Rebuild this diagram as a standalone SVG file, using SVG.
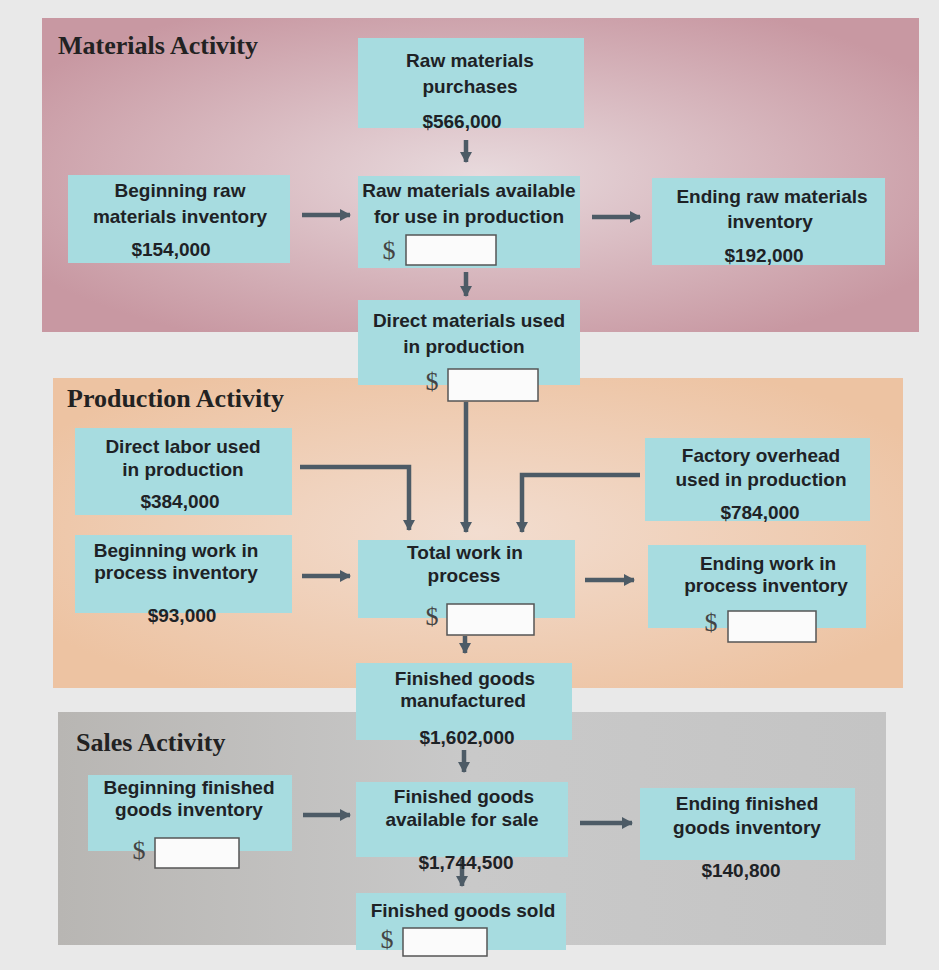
<svg xmlns="http://www.w3.org/2000/svg" width="939" height="970" viewBox="0 0 939 970">
<style>
.t{font-family:"Liberation Sans",Arial,sans-serif;font-weight:bold;font-size:19px;fill:#1e2226;text-anchor:middle}
.h{font-family:"Liberation Serif","Times New Roman",serif;font-weight:bold;font-size:26px;fill:#222}
.node{fill:#a7dce0}
.inp{fill:#fbfbfb;stroke:#555;stroke-width:1.5}
.dol{font-family:"Liberation Serif","Times New Roman",serif;font-size:26px;fill:#444;text-anchor:middle}
.c{stroke:#4d5b66;stroke-width:4.5;fill:none}
</style>
<defs>
<marker id="ah" markerUnits="userSpaceOnUse" markerWidth="14" markerHeight="14" refX="10" refY="7" orient="auto">
<path d="M0,1 L11,7 L0,13 Z" fill="#4d5b66"/>
</marker>
<radialGradient id="gm" cx="0.5" cy="0.5" r="0.6">
<stop offset="0" stop-color="#e8dadd"/><stop offset="1" stop-color="#c898a2"/>
</radialGradient>
<radialGradient id="gp" cx="0.5" cy="0.5" r="0.6">
<stop offset="0" stop-color="#f2ddd0"/><stop offset="1" stop-color="#edc3a2"/>
</radialGradient>
<linearGradient id="gs" x1="0" y1="0" x2="1" y2="0">
<stop offset="0" stop-color="#b8b6b3"/><stop offset="0.5" stop-color="#c9c9c9"/><stop offset="1" stop-color="#c4c4c4"/>
</linearGradient>
</defs>
<rect width="939" height="970" fill="#e9e9e9"/>

<g id="panels">
<rect x="42" y="18" width="877" height="314" fill="url(#gm)"/>
<rect x="53" y="378" width="850" height="310" fill="url(#gp)"/>
<rect x="58" y="712" width="828" height="233" fill="url(#gs)"/>
<text class="h" x="58" y="54">Materials Activity</text>
<text class="h" x="67" y="407">Production Activity</text>
<text class="h" x="76" y="751">Sales Activity</text>
</g>

<g id="connectors">
<line class="c" x1="466" y1="140" x2="466" y2="162" marker-end="url(#ah)"/>
<line class="c" x1="302" y1="215" x2="350" y2="215" marker-end="url(#ah)"/>
<line class="c" x1="592" y1="217" x2="640" y2="217" marker-end="url(#ah)"/>
<line class="c" x1="466" y1="272" x2="466" y2="296" marker-end="url(#ah)"/>
<line class="c" x1="466" y1="402" x2="466" y2="532" marker-end="url(#ah)"/>
<polyline class="c" points="300,467 409,467 409,530" marker-end="url(#ah)"/>
<polyline class="c" points="640,475 522,475 522,532" marker-end="url(#ah)"/>
<line class="c" x1="302" y1="576" x2="350" y2="576" marker-end="url(#ah)"/>
<line class="c" x1="585" y1="580" x2="634" y2="580" marker-end="url(#ah)"/>
<line class="c" x1="465" y1="636" x2="465" y2="653" marker-end="url(#ah)"/>
<line class="c" x1="464" y1="750" x2="464" y2="772" marker-end="url(#ah)"/>
<line class="c" x1="303" y1="815" x2="350" y2="815" marker-end="url(#ah)"/>
<line class="c" x1="580" y1="823" x2="632" y2="823" marker-end="url(#ah)"/>
<line class="c" x1="462" y1="860" x2="462" y2="886" marker-end="url(#ah)"/>
</g>

<g id="raw-purchases">
<rect class="node" x="358" y="38" width="226" height="90"/>
<text class="t" x="470" y="67">Raw materials</text>
<text class="t" x="470" y="93">purchases</text>
<text class="t" x="462" y="128">$566,000</text>
</g>

<g id="beg-raw">
<rect class="node" x="68" y="175" width="222" height="88"/>
<text class="t" x="180" y="197">Beginning raw</text>
<text class="t" x="180" y="223">materials inventory</text>
<text class="t" x="171" y="256">$154,000</text>
</g>

<g id="raw-available">
<rect class="node" x="358" y="176" width="222" height="92"/>
<text class="t" x="469" y="197">Raw materials available</text>
<text class="t" x="469" y="223">for use in production</text>
<text class="dol" x="389" y="259">$</text>
<rect class="inp" x="406" y="235" width="90" height="30"/>
</g>

<g id="end-raw">
<rect class="node" x="652" y="178" width="233" height="87"/>
<text class="t" x="772" y="203">Ending raw materials</text>
<text class="t" x="770" y="228">inventory</text>
<text class="t" x="764" y="262">$192,000</text>
</g>

<g id="direct-materials">
<rect class="node" x="358" y="300" width="222" height="85"/>
<text class="t" x="469" y="327">Direct materials used</text>
<text class="t" x="464" y="353">in production</text>
<text class="dol" x="432" y="390">$</text>
<rect class="inp" x="448" y="369" width="90" height="32"/>
</g>

<g id="direct-labor">
<rect class="node" x="75" y="428" width="217" height="87"/>
<text class="t" x="183" y="453">Direct labor used</text>
<text class="t" x="183" y="476">in production</text>
<text class="t" x="180" y="508">$384,000</text>
</g>

<g id="factory-overhead">
<rect class="node" x="645" y="438" width="225" height="83"/>
<text class="t" x="761" y="462">Factory overhead</text>
<text class="t" x="761" y="486">used in production</text>
<text class="t" x="760" y="519">$784,000</text>
</g>

<g id="beg-wip">
<rect class="node" x="75" y="535" width="217" height="78"/>
<text class="t" x="176" y="557">Beginning work in</text>
<text class="t" x="176" y="579">process inventory</text>
<text class="t" x="182" y="622">$93,000</text>
</g>

<g id="total-wip">
<rect class="node" x="358" y="540" width="217" height="78"/>
<text class="t" x="465" y="559">Total work in</text>
<text class="t" x="464" y="582">process</text>
<text class="dol" x="432" y="625">$</text>
<rect class="inp" x="447" y="604" width="87" height="31"/>
</g>

<g id="end-wip">
<rect class="node" x="648" y="545" width="218" height="83"/>
<text class="t" x="768" y="570">Ending work in</text>
<text class="t" x="766" y="592">process inventory</text>
<text class="dol" x="711" y="631">$</text>
<rect class="inp" x="728" y="611" width="88" height="31"/>
</g>

<g id="fg-manufactured">
<rect class="node" x="356" y="663" width="216" height="77"/>
<text class="t" x="465" y="685">Finished goods</text>
<text class="t" x="463" y="707">manufactured</text>
<text class="t" x="467" y="744">$1,602,000</text>
</g>

<g id="beg-fg">
<rect class="node" x="88" y="775" width="204" height="76"/>
<text class="t" x="189" y="794">Beginning finished</text>
<text class="t" x="189" y="816">goods inventory</text>
<text class="dol" x="139" y="859">$</text>
<rect class="inp" x="155" y="838" width="84" height="30"/>
</g>

<g id="fg-available">
<rect class="node" x="356" y="782" width="212" height="75"/>
<text class="t" x="464" y="803">Finished goods</text>
<text class="t" x="462" y="826">available for sale</text>
<text class="t" x="466" y="869">$1,744,500</text>
</g>

<g id="end-fg">
<rect class="node" x="640" y="788" width="215" height="72"/>
<text class="t" x="747" y="810">Ending finished</text>
<text class="t" x="747" y="834">goods inventory</text>
<text class="t" x="741" y="877">$140,800</text>
</g>

<g id="fg-sold">
<rect class="node" x="356" y="893" width="210" height="57"/>
<text class="t" x="463" y="917">Finished goods sold</text>
<text class="dol" x="387" y="948">$</text>
<rect class="inp" x="403" y="928" width="84" height="28"/>
</g>
</svg>
